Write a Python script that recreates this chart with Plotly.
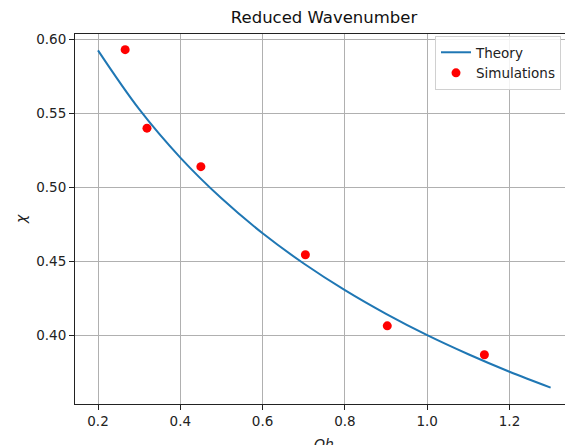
import plotly.graph_objects as go

# Theory curve
theory_oh = [0.2, 0.3, 0.4, 0.5, 0.6, 0.7, 0.8, 0.9, 1.0, 1.1, 1.2, 1.3]
theory_chi = [0.5925, 0.5528, 0.5201, 0.4926, 0.4690, 0.4486, 0.4306,
              0.4146, 0.4002, 0.3873, 0.3755, 0.3648]

# Simulation points
sim_oh = [0.266, 0.319, 0.450, 0.704, 0.903, 1.139]
sim_chi = [0.593, 0.540, 0.514, 0.4545, 0.4065, 0.387]

x_ticks = [0.2, 0.4, 0.6, 0.8, 1.0, 1.2]
y_ticks = [0.40, 0.45, 0.50, 0.55, 0.60]

FONT = "DejaVu Sans"
W, H = 565, 445
L, T, B = 75, 34, 41

fig = go.Figure()
fig.add_trace(go.Scatter(x=theory_oh, y=theory_chi, mode="lines", name="Theory",
                         line=dict(color="#1f77b4", width=2, shape="spline")))
fig.add_trace(go.Scatter(x=sim_oh, y=sim_chi, mode="markers", name="Simulations",
                         marker=dict(color="red", size=9, line=dict(width=0))))

axis_common = dict(
    showgrid=True, gridcolor="#b0b0b0", gridwidth=1,
    zeroline=False, showline=True, linecolor="#222222", linewidth=1,
    ticks="outside", ticklen=5, tickwidth=1, tickcolor="#222222",
    tickfont=dict(family=FONT, size=13.5, color="#222222"),
)

fig.update_layout(
    width=W, height=H,
    margin=dict(l=L, r=0, t=T, b=B, autoexpand=False),
    paper_bgcolor="white", plot_bgcolor="white",
    font=dict(family=FONT, color="#222222"),
    title=dict(text="Reduced Wavenumber", font=dict(family=FONT, size=16.5, color="#111111"),
               xref="container", x=324 / W, xanchor="center",
               yref="container", y=1 - 17.5 / H, yanchor="middle"),
    xaxis=dict(range=[0.1441, 1.3349], tickvals=x_ticks, tickformat=".1f",
               mirror=True, **axis_common),
    yaxis=dict(range=[0.3537, 0.6036], tickvals=y_ticks, tickformat=".2f",
               mirror=False, **axis_common),
    legend=dict(x=(435 - L) / (W - L), xanchor="left", y=1 - (36 - T) / (H - T - B),
                yanchor="top", bgcolor="rgba(255,255,255,0.85)",
                bordercolor="#d0d0d0", borderwidth=1,
                font=dict(family=FONT, size=13.5, color="#222222")),
    showlegend=True,
    annotations=[
        dict(text="<i>Oh</i>", xref="paper", yref="paper",
             x=(324 - L) / (W - L), y=-(444 - (H - B)) / (H - T - B),
             xanchor="center", yanchor="middle", showarrow=False,
             font=dict(family=FONT, size=14, color="#222222")),
        dict(text="<i>χ</i>", xref="paper", yref="paper",
             x=-(L - 21) / (W - L), y=0.5, textangle=-90,
             xanchor="center", yanchor="middle", showarrow=False,
             font=dict(family=FONT, size=14, color="#222222")),
    ],
)

fig.write_html(
    "out.html",
    config={"displayModeBar": False},
    post_script="document.body.style.margin='0';document.body.style.overflow='hidden';",
)
